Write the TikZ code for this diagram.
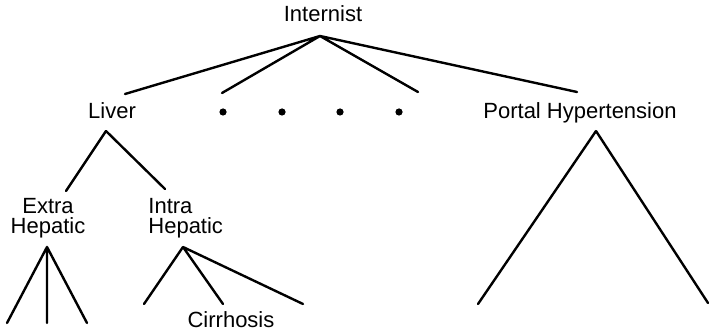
\documentclass[tikz,border=0pt]{standalone}
\usepackage{fontspec}
\setmainfont{Liberation Sans}
\usetikzlibrary{positioning}
\tikzset{
  lbl/.style={font=\fontsize{11}{10}\selectfont, inner sep=0pt, anchor=base},
  dot/.style={circle, fill=black, inner sep=0pt, minimum size=3.6pt},
  branch/.style={line width=1.2pt, line cap=round, draw=black}
}

\begin{document}
\begin{tikzpicture}[x=0.5pt, y=-0.5pt]
  \useasboundingbox (0,0) rectangle (710,331);
  \node[lbl] (internist) at (323,22) {Internist};
  \node[lbl] (liver) at (112,119) {Liver};
  \node[lbl] (portal) at (580,119) {Portal Hypertension};
  \node[dot] (d1) at (223,112) {};
  \node[dot] (d2) at (282,112) {};
  \node[dot] (d3) at (340,112) {};
  \node[dot] (d4) at (399,112) {};
  \node[lbl, align=center] (extra) at (48,233) {Extra\\Hepatic};
  \node[lbl, align=left, anchor=base west] (intra) at (148,233) {Intra\\Hepatic};
  \node[lbl] (cirrhosis) at (231,327) {Cirrhosis};

  \coordinate (itop) at (320,36);
  \coordinate (i1) at (125,94);
  \coordinate (i2) at (222,93);
  \coordinate (i3) at (418,92);
  \coordinate (i4) at (577,92);
  \coordinate (ltop) at (106,131);
  \coordinate (l1) at (66,191);
  \coordinate (l2) at (165,189);
  \coordinate (etop) at (47,247);
  \coordinate (e1) at (7,323);
  \coordinate (e2) at (47,323);
  \coordinate (e3) at (87,323);
  \coordinate (htop) at (183,247);
  \coordinate (h1) at (144,304);
  \coordinate (h2) at (223,304);
  \coordinate (h3) at (303,304);
  \coordinate (ptop) at (596,131);
  \coordinate (p1) at (478,304);
  \coordinate (p2) at (708,303);

  \draw[branch] (itop) -- (i1) (itop) -- (i2) (itop) -- (i3) (itop) -- (i4);
  \draw[branch] (ltop) -- (l1) (ltop) -- (l2);
  \draw[branch] (etop) -- (e1) (etop) -- (e2) (etop) -- (e3);
  \draw[branch] (htop) -- (h1) (htop) -- (h2) (htop) -- (h3);
  \draw[branch] (ptop) -- (p1) (ptop) -- (p2);
\end{tikzpicture}
\end{document}
